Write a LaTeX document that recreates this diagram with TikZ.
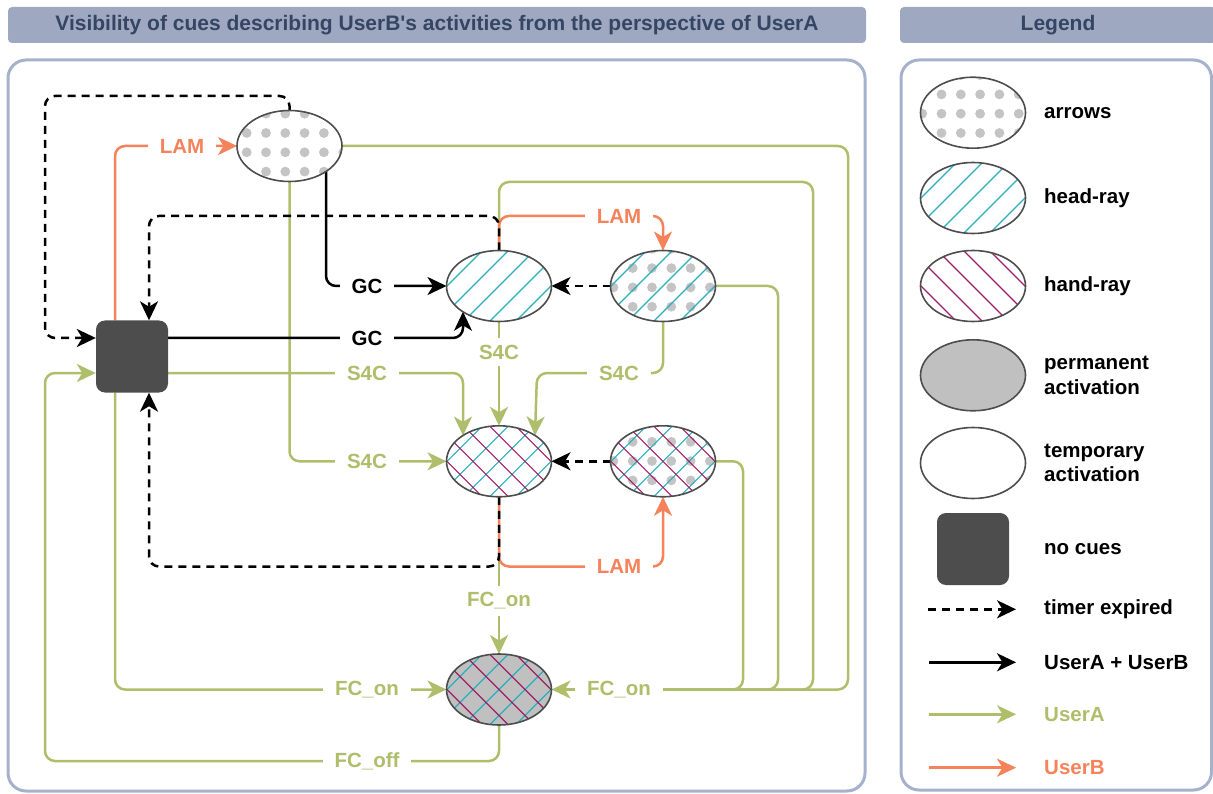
\documentclass[tikz,border=0pt]{standalone}
\usepackage{fontspec}
\setmainfont{Liberation Sans}[Ligatures=TeXOff]
\usetikzlibrary{arrows.meta,shapes.geometric,calc}

\definecolor{barfill}{HTML}{9EA9C1}
\definecolor{bartext}{HTML}{364563}
\definecolor{panelc}{HTML}{A6B1CB}
\definecolor{ua}{HTML}{AFBE6B}
\definecolor{ub}{HTML}{F5825A}
\definecolor{headc}{HTML}{2AAFBE}
\definecolor{handc}{HTML}{A21E68}
\definecolor{dotc}{HTML}{C4C4C4}
\definecolor{permc}{HTML}{C0C0C0}
\definecolor{outl}{HTML}{4D4D4D}
\definecolor{sqc}{HTML}{4D4D4D}

\newcommand{\lblfont}{\bfseries\fontsize{20.5pt}{24.5pt}\selectfont}
\newcommand{\ttlfont}{\bfseries\fontsize{21pt}{25pt}\selectfont}

% grey dots of the "arrows" cue, on a common grid, clipped to a state
\newcommand{\dotgrid}[5]{%
  \begin{scope}
    \clip (#1.center) ellipse [x radius=52.5pt, y radius=35.5pt];
    \foreach \i in {#2,...,#3} \foreach \j in {#4,...,#5}
      \fill[dotc] (15.1+19.3*\i, 17.2+19.3*\j) circle [radius=4.9pt];
  \end{scope}}
% diagonal hatching: head-ray rising, hand-ray falling
\newcommand{\headhatch}[1]{%
  \begin{scope}
    \clip (#1.center) ellipse [x radius=52.5pt, y radius=35.5pt];
    \foreach \k in {-4,...,4}
      \draw[headc, line width=1.1pt] ($(#1.center)+(\k*26-50,50)$) -- ++(100,-100);
  \end{scope}}
\newcommand{\handhatch}[1]{%
  \begin{scope}
    \clip (#1.center) ellipse [x radius=52.5pt, y radius=35.5pt];
    \foreach \k in {-4,...,4}
      \draw[handc, line width=1.1pt] ($(#1.center)+(\k*26-50,-50)$) -- ++(100,100);
  \end{scope}}
\newcommand{\rim}[1]{\draw[outl, line width=1.6pt] (#1.center) ellipse [x radius=52.5pt, y radius=35.5pt];}

\pgfdeclarelayer{panels}
\pgfdeclarelayer{edges}
\pgfsetlayers{panels,edges,main}

\begin{document}
\begin{tikzpicture}[x=1pt,y=-1pt,
  cue/.style={ellipse, minimum width=105pt, minimum height=71pt, inner sep=0pt, outer sep=0pt},
  temp/.style={fill=white},
  perm/.style={fill=permc},
  nocue/.style={rectangle, rounded corners=9pt, fill=sqc, minimum width=72pt, minimum height=72pt, inner sep=0pt},
  conn/.style={line width=2.5pt, rounded corners=10pt},
  arrowed/.style={-{Stealth[length=19pt,width=18pt,inset=5.5pt]}},
  usera/.style={conn, draw=ua},
  userb/.style={conn, draw=ub},
  both/.style={conn, draw=black},
  timer/.style={conn, draw=black, dash pattern=on 8pt off 6pt},
  lab/.style={fill=white, inner xsep=12pt, inner ysep=7pt, font=\lblfont},
  laba/.style={lab, text=ua},
  labb/.style={lab, text=ub},
  labk/.style={lab, text=black},
  legtext/.style={anchor=west, inner sep=0pt, font=\lblfont, align=left},
  bar/.style={fill=barfill, rounded corners=4pt, minimum height=36pt, inner sep=0pt, text=bartext, font=\ttlfont}
]
\useasboundingbox (0,0) rectangle (1213,794);

% panels and headers
\begin{pgfonlayer}{panels}
  \draw[panelc, line width=3pt, rounded corners=18pt] (8,60) rectangle (865,791);
  \draw[panelc, line width=3pt, rounded corners=18pt] (901,60) rectangle (1211.5,790);
\end{pgfonlayer}
\node[bar, minimum width=858pt] (ttl) at (437,25) {Visibility of cues describing UserB's activities from the perspective of UserA};
\node[bar, minimum width=316pt] (lgt) at (1058,25) {Legend};

% states
\node[nocue] (nc) at (132,356.5) {};
\node[cue, temp] (A1) at (289.5,146) {};
\dotgrid{A1}{11}{17}{4}{9}\rim{A1}
\node[cue, temp] (H1) at (499,286) {};
\headhatch{H1}\rim{H1}
\node[cue, temp] (AH) at (663,286) {};
\dotgrid{AH}{30}{37}{12}{16}\headhatch{AH}\rim{AH}
\node[cue, temp] (HH) at (499,461.3) {};
\headhatch{HH}\handhatch{HH}\rim{HH}
\node[cue, temp] (AHH) at (663,461.3) {};
\dotgrid{AHH}{30}{37}{21}{25}\headhatch{AHH}\handhatch{AHH}\rim{AHH}
\node[cue, perm] (P) at (499,689.5) {};
\headhatch{P}\handhatch{P}\rim{P}
\coordinate (fcj) at (663,689.5);

% transitions
\begin{pgfonlayer}{edges}
  % UserA
  \draw[usera] (A1.east) -- (848,146) -- (848,689.5) -- (fcj);
  \draw[usera] (H1.north) -- (499,182) -- (813,182) -- (813,689.5) -- (fcj);
  \draw[usera] (AH.east) -- (778,286) -- (778,689.5) -- (fcj);
  \draw[usera] (AHH.east) -- (743,461.3) -- (743,689.5) -- (fcj);
  \draw[usera, arrowed] (fcj) -- (P.east);
  \draw[usera, arrowed] (H1.south) -- (HH.north);
  \draw[usera, arrowed] (AH.south) -- (663,373) -- (537,373) -- ($(HH.center)+(36,-25.8)$);
  \draw[usera, arrowed] ([yshift=-16.5pt]nc.east) -- (463,373) -- ($(HH.center)+(-36,-25.8)$);
  \draw[usera, arrowed] (A1.south) -- (289.5,461.3) -- (HH.west);
  \draw[usera, arrowed] (HH.south) -- (P.north);
  \draw[usera, arrowed] ([xshift=-17pt]nc.south) -- (115,689.5) -- (P.west);
  \draw[usera, arrowed] (P.south) -- (499,761) -- (45,761) -- (45,373) -- ([yshift=-16.5pt]nc.west);
  % UserB
  \draw[userb, arrowed] ([xshift=-17pt]nc.north) -- (115,146) -- (A1.west);
  \draw[userb, arrowed] (H1.north) -- (499,216) -- (663,216) -- (AH.north);
  \draw[userb, arrowed] (HH.south) -- (499,566.5) -- (663,566.5) -- (AHH.south);
  % UserA + UserB
  \draw[both, arrowed] ($(A1.center)+(36.5,25.5)$) -- (326,286) -- (H1.west);
  \draw[both, arrowed] ([yshift=18.5pt]nc.east) -- (463,338) -- ($(H1.center)+(-36,25.8)$);
  % timer expired
  \draw[timer, arrowed] (A1.north) -- (289.5,96) -- (45,96) -- (45,338) -- ([yshift=18.5pt]nc.west);
  \draw[timer, arrowed] (H1.north) -- (499,216) -- (149,216) -- ([xshift=17pt]nc.north);
  \draw[timer, arrowed] (AH.west) -- (H1.east);
  \draw[timer, arrowed] (AHH.west) -- (HH.east);
  \draw[timer, arrowed] (HH.south) -- (499,566.5) -- (149,566.5) -- ([xshift=17pt]nc.south);
\end{pgfonlayer}

% transition labels
\node[labb] (lamA) at (182,146) {LAM};
\node[labk] (gc1) at (367,286) {GC};
\node[labk] (gc2) at (367,338) {GC};
\node[labb] (lamH) at (619,216) {LAM};
\node[laba] (s4c1) at (499,352) {S4C};
\node[laba] (s4c2) at (367,373) {S4C};
\node[laba] (s4c3) at (619,373) {S4C};
\node[laba] (s4c4) at (367,461.3) {S4C};
\node[labb] (lamB) at (619,566.5) {LAM};
\node[laba] (fc1) at (499,601) {FC\_on};
\node[laba] (fc2) at (367,689.5) {FC\_on};
\node[laba] (fc3) at (619,689.5) {FC\_on};
\node[laba] (fcoff) at (367,761) {FC\_off};

% legend
\node[cue, temp] (Larrows) at (973,112.7) {};
\dotgrid{Larrows}{46}{53}{3}{7}\rim{Larrows}
\node[cue, temp] (Lhead) at (973,198) {};
\headhatch{Lhead}\rim{Lhead}
\node[cue, temp] (Lhand) at (973,286) {};
\handhatch{Lhand}\rim{Lhand}
\node[cue, perm] (Lperm) at (973,375.3) {};
\rim{Lperm}
\node[cue, temp] (Ltemp) at (973,463) {};
\rim{Ltemp}
\node[nocue] (Lnc) at (973,549) {};
\node[legtext] (tArrows) at (1044,112.7) {arrows};
\node[legtext] (tHead) at (1044,198) {head-ray};
\node[legtext] (tHand) at (1044,286) {hand-ray};
\node[legtext] (tPerm) at (1044,375.3) {permanent\\activation};
\node[legtext] (tTemp) at (1044,463) {temporary\\activation};
\node[legtext] (tNc) at (1044,549) {no cues};
\node[legtext] (tTimer) at (1044,609.3) {timer expired};
\node[legtext] (tBoth) at (1044,662.3) {UserA + UserB};
\node[legtext, text=ua] (tUA) at (1044,714.3) {UserA};
\node[legtext, text=ub] (tUB) at (1044,767.7) {UserB};
\coordinate (l1a) at (928,609.3); \coordinate (l1b) at (1016,609.3);
\coordinate (l2a) at (929,662.3); \coordinate (l2b) at (1016,662.3);
\coordinate (l3a) at (929,714.3); \coordinate (l3b) at (1016,714.3);
\coordinate (l4a) at (929,767.7); \coordinate (l4b) at (1016,767.7);
\draw[timer, arrowed] (l1a) -- (l1b);
\draw[both, arrowed] (l2a) -- (l2b);
\draw[usera, arrowed] (l3a) -- (l3b);
\draw[userb, arrowed] (l4a) -- (l4b);
\end{tikzpicture}
\end{document}
